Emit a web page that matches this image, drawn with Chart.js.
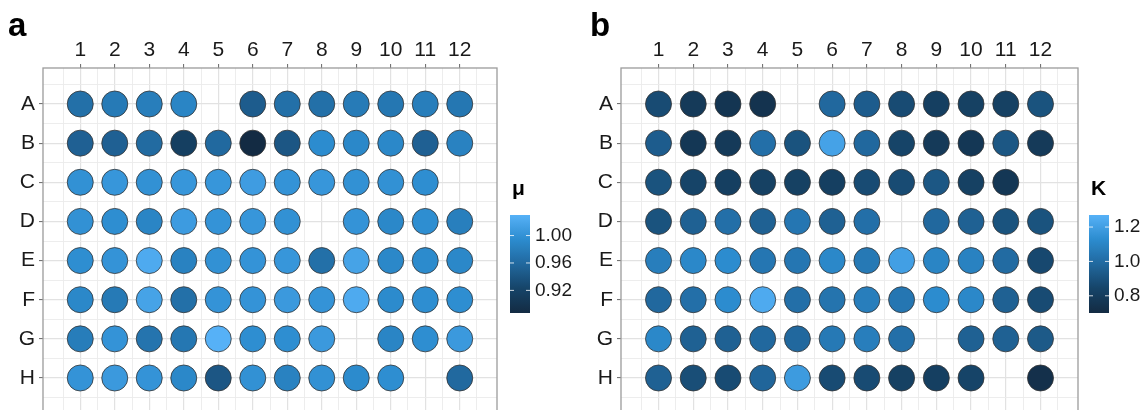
<!DOCTYPE html>
<html><head><meta charset="utf-8">
<script src="https://cdn.jsdelivr.net/npm/chart.js@4.4.1/dist/chart.umd.min.js"></script>
<style>
html,body{margin:0;padding:0;background:#fff;overflow:hidden;width:1145px;height:410px;}
#ca{position:absolute;left:0;top:0;}
#cb{position:absolute;left:575px;top:0;}
</style></head><body>
<canvas id="ca" width="590" height="420" style="width:590px;height:420px"></canvas>
<canvas id="cb" width="570" height="420" style="width:570px;height:420px"></canvas>
<script>
// ---- data ----
const columns = ['1','2','3','4','5','6','7','8','9','10','11','12'];
const rows = ['A','B','C','D','E','F','G','H'];

// panel a: mu
const muA = [0.966,0.976,0.980,0.987,null,0.947,0.966,0.966,0.977,0.973,0.980,0.973];
const muB = [0.951,0.951,0.961,0.916,0.959,0.887,0.941,0.994,0.990,0.990,0.951,0.984];
const muC = [0.999,1.004,0.999,1.004,1.004,1.010,1.001,1.004,0.999,0.999,0.996,null];
const muD = [0.999,0.996,0.987,1.009,1.001,1.004,0.999,null,1.001,0.990,0.996,0.981];
const muE = [0.996,1.001,1.023,0.984,0.999,1.001,1.004,0.966,1.016,0.990,0.993,0.990];
const muF = [0.990,0.976,1.016,0.966,1.001,1.001,1.007,1.001,1.023,0.993,0.996,0.996];
const muG = [0.979,1.001,0.970,0.973,1.030,0.996,0.996,1.007,null,0.987,0.996,1.007];
const muH = [1.001,1.007,1.001,0.990,0.941,0.999,0.984,0.999,0.993,0.996,null,0.959];

// panel b: K
const kA = [0.871,0.786,0.757,0.746,null,0.985,0.939,0.871,0.814,0.825,0.825,0.900];
const kB = [0.939,0.768,0.786,1.014,0.900,1.213,0.985,0.843,0.786,0.768,0.917,0.786];
const kC = [0.900,0.843,0.814,0.825,0.825,0.814,0.871,0.871,0.917,0.825,0.768,null];
const kD = [0.900,0.957,1.014,0.957,1.042,0.957,1.014,null,0.985,0.957,0.900,0.900];
const kE = [1.071,1.110,1.128,1.042,1.042,1.110,1.053,1.202,1.099,1.088,0.996,0.860];
const kF = [0.985,1.014,1.128,1.242,1.014,1.031,1.071,1.042,1.128,1.110,0.957,0.871];
const kG = [1.110,0.957,0.957,0.985,0.985,1.053,1.071,1.014,null,0.957,0.957,0.928];
const kH = [0.957,0.882,0.871,0.974,1.185,0.871,0.871,0.825,0.814,0.843,null,0.729];

const muTicks = [0.92, 0.96, 1.00];
const muTickLabels = ['0.92','0.96','1.00'];
const kTicks = [0.8, 1.0, 1.2];
const kTickLabels = ['0.8','1.0','1.2'];
const muLimits = [0.887, 1.030];
const kLimits = [0.700, 1.270];

// ---- colour ramp (dark navy -> light blue) ----
const RAMP = [
  [0.00,[19,43,67]],
  [0.25,[22,68,104]],
  [0.50,[33,104,158]],
  [0.75,[44,140,207]],
  [1.00,[86,177,247]]
];
function rampColor(t){
  t=Math.max(0,Math.min(1,t));
  for(let i=1;i<RAMP.length;i++){
    if(t<=RAMP[i][0]){
      const [t0,c0]=RAMP[i-1],[t1,c1]=RAMP[i];
      const f=(t-t0)/(t1-t0);
      return 'rgb('+c0.map((v,j)=>Math.round(v+(c1[j]-v)*f)).join(',')+')';
    }
  }
  return 'rgb('+RAMP[RAMP.length-1][1].join(',')+')';
}
function colorFor(v,lim){return rampColor((v-lim[0])/(lim[1]-lim[0]));}

// ---- helpers ----
function halfTicks(lo,hi){const t=[];for(let i=lo*2;i<=hi*2;i++)t.push({value:i/2});return t;}
const FONT='"Liberation Sans", Arial, Helvetica, sans-serif';

function buildData(rowArrays){
  const d=[];
  rowArrays.forEach((arr,r)=>arr.forEach((v,c)=>{if(v!==null)d.push({x:c+1,y:r+1,v:v});}));
  return d;
}

function makeChart(id,rowArrays,lim,ticks,tickLabels,title,letter,g){
  const panelPlugin={
    id:'panel'+letter,
    afterDraw(chart){
      const ctx=chart.ctx,a=chart.chartArea;
      ctx.save();
      ctx.strokeStyle='#9b9b9b';ctx.lineWidth=1.3;
      ctx.strokeRect(a.left,a.top,a.right-a.left,a.bottom-a.top);
      ctx.fillStyle='#000';ctx.font='bold 33px '+FONT;ctx.textBaseline='alphabetic';ctx.textAlign='left';
      ctx.fillText(letter,g.letterX,36);
      ctx.font='bold 21px '+FONT;
      ctx.fillText(title,g.legX+2,195);
      const bx=g.legX,bw=20,bt=215,bb=313;
      const grd=ctx.createLinearGradient(0,bb,0,bt);
      for(let i=0;i<=20;i++)grd.addColorStop(i/20,rampColor(i/20));
      ctx.fillStyle=grd;ctx.fillRect(bx,bt,bw,bb-bt);
      ctx.font='19px '+FONT;ctx.textBaseline='middle';ctx.fillStyle='#1a1a1a';
      ticks.forEach((v,i)=>{
        const y=bb-(v-lim[0])/(lim[1]-lim[0])*(bb-bt);
        ctx.strokeStyle='rgba(255,255,255,0.8)';ctx.lineWidth=1;
        ctx.beginPath();ctx.moveTo(bx,y);ctx.lineTo(bx+4,y);ctx.moveTo(bx+bw-4,y);ctx.lineTo(bx+bw,y);ctx.stroke();
        ctx.fillText(tickLabels[i],bx+bw+5,y);
      });
      ctx.restore();
    }
  };
  const isInt=v=>Math.abs(v-Math.round(v))<1e-6;
  const gridOpts={
    color:c=>isInt(c.tick.value)?'#e2e2e2':'#ebebeb',
    lineWidth:c=>isInt(c.tick.value)?1.2:0.9,
    tickLength:4,
    tickColor:c=>isInt(c.tick.value)?'#666':'rgba(0,0,0,0)',
    tickWidth:1
  };
  return new Chart(document.getElementById(id),{
    type:'scatter',
    data:{datasets:[{
      data:buildData(rowArrays),
      backgroundColor:c=>c.raw?colorFor(c.raw.v,lim):'#000',
      borderColor:'#333',borderWidth:0.8,
      pointRadius:13,pointHoverRadius:13
    }]},
    options:{
      responsive:false,maintainAspectRatio:false,animation:false,
      layout:{autoPadding:false,padding:{left:0,top:0,right:g.padRight,bottom:g.padBottom}},
      plugins:{legend:{display:false},tooltip:{enabled:false}},
      scales:{
        x:{type:'linear',position:'top',min:-0.08,max:13.08,
          afterBuildTicks:s=>{s.ticks=halfTicks(0.5,12.5);},
          afterFit:s=>{s.height=68;s.paddingLeft=0;s.paddingRight=0;},
          ticks:{autoSkip:false,maxRotation:0,padding:1,color:'#1a1a1a',font:{family:FONT,size:21},
            callback:v=>isInt(v)?columns[Math.round(v)-1]:''},
          grid:gridOpts,border:{display:false}},
        y:{type:'linear',reverse:true,min:0.08,max:8.92,
          afterBuildTicks:s=>{s.ticks=halfTicks(0.5,8.5);},
          afterFit:s=>{s.width=g.yWidth;s.paddingTop=0;s.paddingBottom=0;},
          ticks:{autoSkip:false,padding:4,color:'#1a1a1a',font:{family:FONT,size:21},
            callback:v=>isInt(v)?(rows[Math.round(v)-1]||''):''},
          grid:gridOpts,border:{display:false}}
      }
    },
    plugins:[panelPlugin]
  });
}

makeChart('ca',[muA,muB,muC,muD,muE,muF,muG,muH],muLimits,muTicks,muTickLabels,'μ','a',
  {yWidth:43,padRight:93,padBottom:6,letterX:8,legX:510});
makeChart('cb',[kA,kB,kC,kD,kE,kF,kG,kH],kLimits,kTicks,kTickLabels,'K','b',
  {yWidth:46,padRight:67,padBottom:6,letterX:15,legX:514});
</script>
</body></html>
